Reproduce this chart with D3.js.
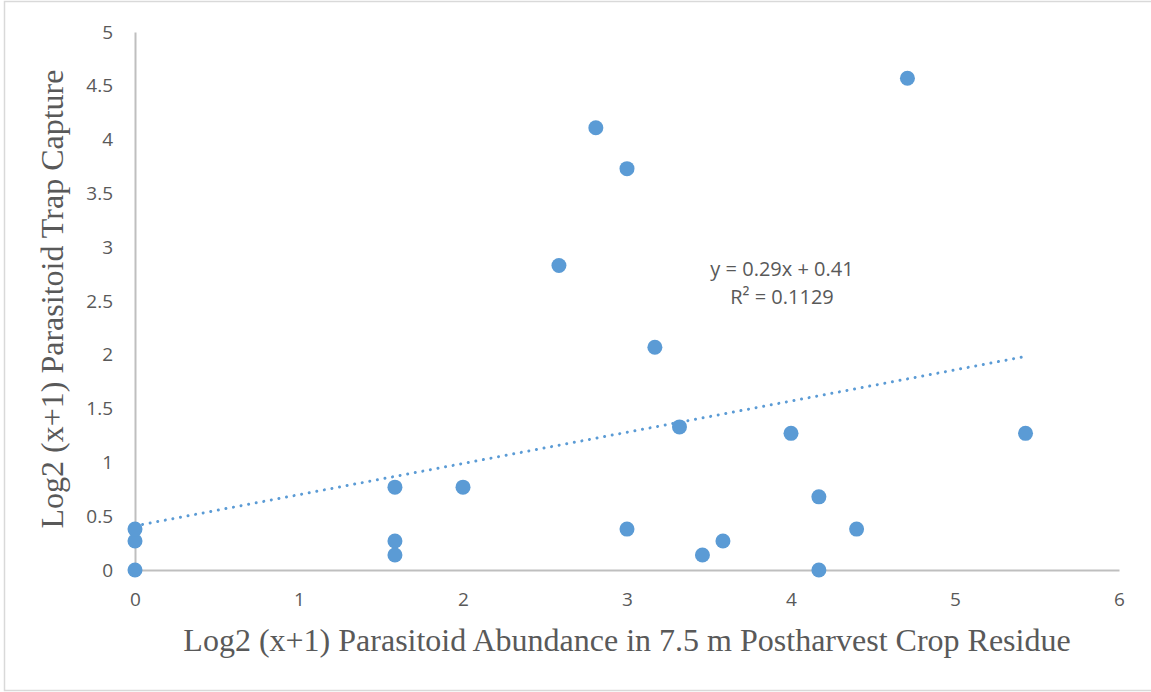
<!DOCTYPE html>
<head>
  <meta charset="utf-8">
  <script src="https://cdn.jsdelivr.net/npm/d3@7/dist/d3.min.js"></script>
  <style>
    body { margin: 0; background: #fff; }
  </style>
</head>

<body>
  <div id="chart"></div>

  <script>
    // Scatter values
    var xValues = [0, 0, 0, 1.585, 1.585, 1.585, 2, 2.585, 2.81, 3, 3.17, 3, 3.32, 3.46, 3.585, 4, 4.17, 4.17, 4.4, 4.71, 5.43];
    var yValues = [0, 0.27, 0.38, 0.27, 0.14, 0.77, 0.77, 2.83, 4.11, 3.73, 2.07, 0.38, 1.33, 0.14, 0.27, 1.27, 0.68, 0, 0.38, 4.57, 1.27];

    var xTicks = [0, 1, 2, 3, 4, 5, 6];
    var yTicks = [0, 0.5, 1, 1.5, 2, 2.5, 3, 3.5, 4, 4.5, 5];

    // Linear trendline as printed on the chart
    var slope = 0.29,
        intercept = 0.41;
    var trendLabel = ["y = 0.29x + 0.41", "R² = 0.1129"];

    var width = 1151,
        height = 692;

    var svg = d3.select("#chart").append("svg")
        .attr("width", width)
        .attr("height", height);

    // Chart border
    svg.append("rect")
        .attr("x", 4.5).attr("y", 1.5)
        .attr("width", 1160).attr("height", 689)
        .style("fill", "#fff")
        .style("stroke", "#d9d9d9")
        .style("stroke-width", 1.5);

    var x = d3.scaleLinear().domain([0, 6]).range([135, 1119]);
    var y = d3.scaleLinear().domain([0, 5]).range([570, 32]);

    var tickFont = "'Open Sans', Lato, sans-serif";

    // Axes
    var xAxis = svg.append("g")
        .attr("transform", "translate(0," + y(0) + ")")
        .call(d3.axisBottom(x).tickValues(xTicks).tickSize(0).tickPadding(23)
            .tickFormat(function(d) { return d; }));
    var yAxis = svg.append("g")
        .attr("transform", "translate(" + x(0) + ",0)")
        .call(d3.axisLeft(y).tickValues(yTicks).tickSize(0).tickPadding(22)
            .tickFormat(function(d) { return d; }));

    [xAxis, yAxis].forEach(function(ax) {
        ax.select(".domain").style("stroke", "#bfbfbf").style("stroke-width", 2);
        ax.selectAll("text")
            .style("font-family", tickFont)
            .style("font-size", "19px")
            .style("fill", "#595959");
    });

    // Trendline, from 0 to the largest x
    var xMax = d3.max(xValues);
    svg.append("line")
        .attr("x1", x(0)).attr("y1", y(intercept))
        .attr("x2", x(xMax)).attr("y2", y(slope * xMax + intercept))
        .style("stroke", "#5b9bd5")
        .style("stroke-width", 3)
        .style("stroke-linecap", "round")
        .style("stroke-dasharray", "0.01 7.7");

    // Points
    svg.append("g").selectAll("circle")
        .data(xValues)
        .enter().append("circle")
        .attr("cx", function(d) { return x(d); })
        .attr("cy", function(d, i) { return y(yValues[i]); })
        .attr("r", 7.5)
        .style("fill", "#5b9bd5");

    // Trendline label
    svg.append("text")
        .attr("x", 782).attr("y", 276)
        .style("font-family", tickFont)
        .style("font-size", "20px")
        .style("fill", "#595959")
        .style("text-anchor", "middle")
        .selectAll("tspan")
        .data(trendLabel)
        .enter().append("tspan")
        .attr("x", 782)
        .attr("dy", function(d, i) { return i ? 28 : 0; })
        .text(function(d) { return d; });

    // Axis titles
    svg.append("text")
        .attr("x", 627).attr("y", 651)
        .style("font-family", "'Liberation Serif', 'Times New Roman', serif")
        .style("font-size", "32px")
        .style("fill", "#595959")
        .style("text-anchor", "middle")
        .text("Log2 (x+1) Parasitoid Abundance in 7.5 m Postharvest Crop Residue");

    svg.append("text")
        .attr("transform", "translate(63,299) rotate(-90)")
        .style("font-family", "'Liberation Serif', 'Times New Roman', serif")
        .style("font-size", "32px")
        .style("fill", "#595959")
        .style("text-anchor", "middle")
        .text("Log2 (x+1) Parasitoid Trap Capture");
  </script>
</body>
